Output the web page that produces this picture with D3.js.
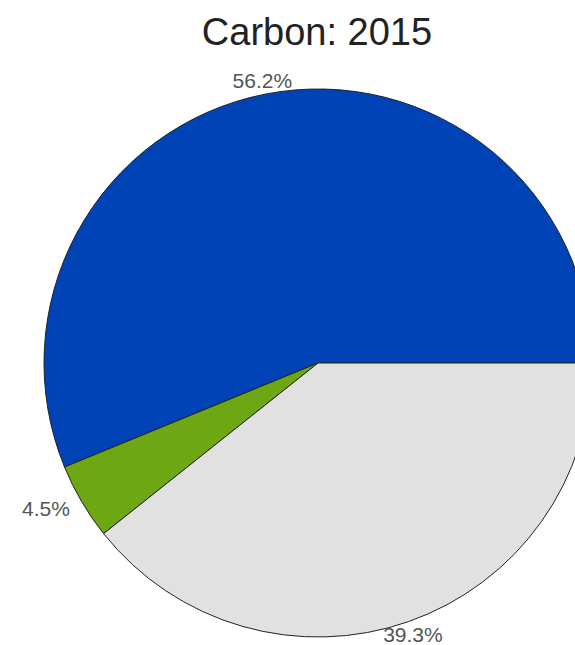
<!DOCTYPE html>
<html>
<head>
<meta charset="utf-8">
<script src="https://cdn.jsdelivr.net/npm/d3@7"></script>
<style>
  body { margin: 0; background: #fff; }
  svg { display: block; }
</style>
</head>
<body>
<svg id="chart"></svg>
<script>
var categories = ["Blue", "Green", "Gray"];
var shares = [56.2, 4.5, 39.3];
var labels = ["56.2%", "4.5%", "39.3%"];
var colors = ["#0043b6", "#6ea714", "#e1e1e1"];

var width = 575, height = 645;
var cx = 318, cy = 363, radius = 274;

var svg = d3.select("#chart").attr("width", width).attr("height", height);

svg.append("text")
  .attr("x", 317)
  .attr("y", 45)
  .attr("text-anchor", "middle")
  .style("font-family", "Liberation Sans, Arial, sans-serif")
  .style("font-size", "38px")
  .style("fill", "#222")
  .text("Carbon: 2015");

// slices start at 3 o'clock and run counter-clockwise
var pie = d3.pie()
  .sort(null)
  .startAngle(Math.PI / 2)
  .endAngle(Math.PI / 2 - 2 * Math.PI);

var arc = d3.arc().innerRadius(0).outerRadius(radius);

var data = categories.map(function(c, i) {
  return { name: c, value: shares[i], label: labels[i], color: colors[i] };
});

var g = svg.append("g").attr("transform", "translate(" + cx + "," + cy + ")");

var arcs = pie.value(function(d) { return d.value; })(data);

g.selectAll("path")
  .data(arcs)
  .enter()
  .append("path")
  .attr("d", arc)
  .attr("fill", function(d) { return d.data.color; })
  .attr("stroke", "#222")
  .attr("stroke-width", 1);

var labelR = radius * 1.05;
g.selectAll("text.lbl")
  .data(arcs)
  .enter()
  .append("text")
  .attr("class", "lbl")
  .attr("x", function(d) {
    var a = (d.startAngle + d.endAngle) / 2;
    return labelR * Math.sin(a);
  })
  .attr("y", function(d) {
    var a = (d.startAngle + d.endAngle) / 2;
    return -labelR * Math.cos(a);
  })
  .attr("dy", "0.35em")
  .attr("text-anchor", function(d) {
    var s = Math.sin((d.startAngle + d.endAngle) / 2);
    if (s < -0.5) return "end";
    if (s > 0.5) return "start";
    return "middle";
  })
  .style("font-family", "Liberation Sans, Arial, sans-serif")
  .style("font-size", "21px")
  .style("fill", "#555")
  .text(function(d) { return d.data.label; });
</script>
</body>
</html>
